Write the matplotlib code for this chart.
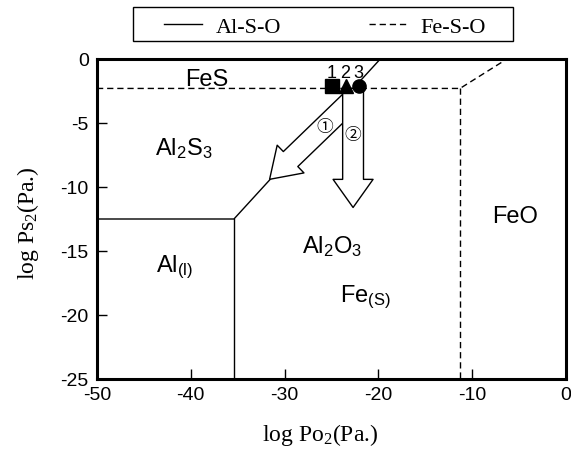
import matplotlib
matplotlib.use("Agg")
import matplotlib.pyplot as plt
from matplotlib.patches import ArrowStyle, Rectangle

plt.rcParams['font.family'] = ['Liberation Sans', 'DejaVu Sans']
plt.rcParams['axes.unicode_minus'] = False

# phase boundaries (log Po2, log Ps2)
al_lines = [([-50, -35.4, -19.8], [-12.5, -12.5, 0]),
            ([-35.4, -35.4], [-12.5, -25])]
fe_lines = [([-50, -11.3, -6.3], [-2.3, -2.3, 0]),
            ([-11.3, -11.3], [-2.3, -25])]

# the three starting points
pt_x = [-25.0, -23.5, -22.1]
pt_y = [-2.1, -2.1, -2.1]
pt_marker = ['s', '^', 'o']
pt_label = ['1', '2', '3']

# reaction paths (start, end)
arrow1 = ((-22.7, -3.1), (-31.6, -9.4))
arrow2 = ((-22.7, -2.3), (-22.7, -11.6))

# region names
regions = [('FeS', -38.3, -2.05), (r'Al$\mathregular{_2}$S$\mathregular{_3}$', -40.7, -7.4),
           (r'Al$\mathregular{_{(l)}}$', -41.7, -16.6),
           (r'Al$\mathregular{_2}$O$\mathregular{_3}$', -24.9, -15.1),
           (r'Fe$\mathregular{_{(S)}}$', -21.4, -18.9), ('FeO', -5.4, -12.7)]

xticks = [-50, -40, -30, -20, -10, 0]
yticks = [0, -5, -10, -15, -20, -25]

fig = plt.figure(figsize=(5.71, 4.52), dpi=100)
ax = fig.add_axes([97/571, 1-380/452, 469/571, 320/452])

for i, (xs, ys) in enumerate(al_lines):
    ax.plot(xs, ys, color='black', lw=1.0, label='Al-S-O' if i == 0 else None, zorder=2)
for i, (xs, ys) in enumerate(fe_lines):
    ax.plot(xs, ys, color='black', lw=1.0, dashes=(4.5, 2.8),
            label='Fe-S-O' if i == 0 else None, zorder=2)

def big_arrow(start, end, hw, hl):
    ax.annotate('', xy=end, xytext=start,
                arrowprops=dict(arrowstyle=ArrowStyle.Simple(head_length=hl, head_width=hw, tail_width=1.0),
                                mutation_scale=15, shrinkA=0, shrinkB=0,
                                facecolor='white', edgecolor='black', lw=1.0),
                zorder=3)

big_arrow(arrow1[0], arrow1[1], 1.85, 1.4)
big_arrow(arrow2[0], arrow2[1], 1.92, 1.35)

for x, y, m, lab in zip(pt_x, pt_y, pt_marker, pt_label):
    ax.plot(x, y, marker=m, color='black', markersize=9.5, zorder=5)
    ax.annotate(lab, (x, y), xytext=(0, 6.5), textcoords='offset points',
                ha='center', va='baseline', fontsize=13, zorder=5)

ax.text(-25.7, -5.3, '①', ha='center', va='center', fontsize=12,
        family=['Noto Sans CJK JP', 'DejaVu Sans'], zorder=6)
ax.text(-22.7, -5.9, '②', ha='center', va='center', fontsize=12,
        family=['Noto Sans CJK JP', 'DejaVu Sans'], zorder=6)

for txt, x, y in regions:
    ax.text(x, y, txt, ha='center', va='baseline', fontsize=17)

ax.set_xlim(-50, 0)
ax.set_ylim(-25, 0)
ax.set_xticks(xticks)
ax.set_yticks(yticks)
ax.tick_params(direction='in', length=7, width=1, labelsize=14)
ax.tick_params(axis='x', pad=5)
ax.tick_params(axis='y', pad=6)
for s in ax.spines.values():
    s.set_linewidth(2.2)

ax.set_xlabel(r'log Po$\mathregular{_2}$(Pa.)', family='Liberation Serif', fontsize=17)
ax.set_ylabel(r'log Ps$\mathregular{_2}$(Pa.)', family='Liberation Serif', fontsize=17)
ax.xaxis.set_label_coords(0.475, -0.13)
ax.yaxis.set_label_coords(-0.12, 0.49)

# legend box drawn separately, entries spread inside it
fig.patches.append(Rectangle((133/571, 1-42/452), 380/571, 34/452, transform=fig.transFigure,
                             facecolor='white', edgecolor='black', lw=1.0))
h, l = ax.get_legend_handles_labels()
fig.legend(h, l, ncol=2, loc='lower left', bbox_to_anchor=(160/571, 1-42/452, 330/571, 34/452),
           mode='expand', frameon=False, prop={'family': 'Liberation Serif', 'size': 16},
           handlelength=1.7, borderaxespad=0, borderpad=0.2, handletextpad=0.6)

fig.savefig('out.png', dpi=100)
